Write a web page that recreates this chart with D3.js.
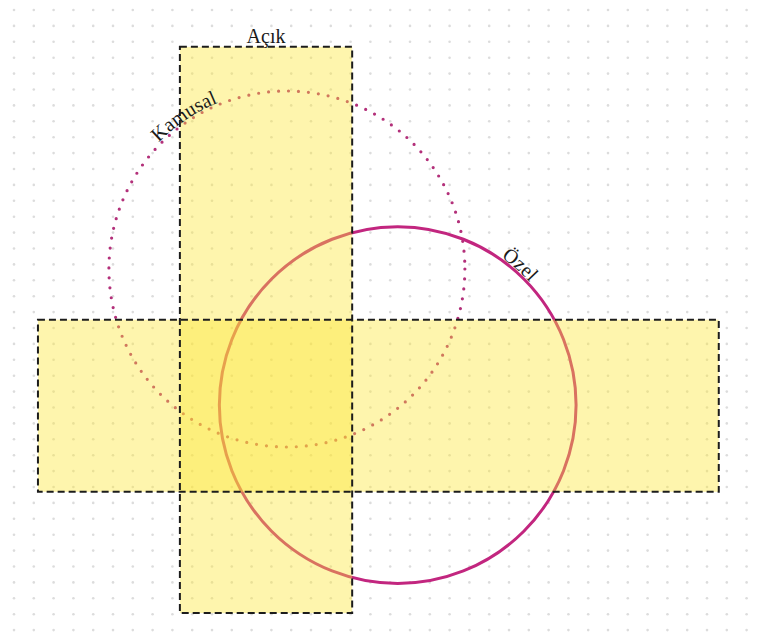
<!DOCTYPE html>
<html>
<head>
<meta charset="utf-8">
<script src="https://cdn.jsdelivr.net/npm/d3@7"></script>
<style>
  html, body { margin: 0; padding: 0; background: #ffffff; }
  svg { display: block; }
  text { font-family: "Liberation Serif", "DejaVu Serif", serif; fill: #1a1a1a; }
</style>
</head>
<body>
<script>
// rectangles (x0, x1, y0, y1 in percent of the canvas)
var rectNames = ["Açık", "Kapalı"];
var rectX0 = [23.7, 5.0];
var rectX1 = [46.4, 94.7];
var rectY0 = [7.3, 49.8];
var rectY1 = [95.5, 76.6];

// circles (center and radius in percent of the width)
var circleNames = ["Kamusal", "Özel"];
var circleCx = [37.8, 52.4];
var circleCy = [41.9, 63.1];
var circleR = [23.45, 23.5];
var circleStyle = ["dotted", "solid"];
var circleLabelAngle = [-124, -49];   // degrees, where the label sits on the ring

var w = 759, h = 642;
var fontSize = 20;

var xScale = d3.scaleLinear().domain([0, 100]).range([0, w]);
var yScale = d3.scaleLinear().domain([0, 100]).range([0, h]);

var svg = d3.select("body").append("svg")
    .attr("width", w)
    .attr("height", h);

// dotted background grid
var gridX = d3.range(14, w, 19.8);
var gridY = d3.range(10, h, 15.9);
var gridPts = [];
gridY.forEach(function(gy){
    gridX.forEach(function(gx){ gridPts.push([gx, gy]); });
});
svg.append("g").selectAll("circle")
    .data(gridPts)
    .enter()
    .append("circle")
    .attr("cx", function(d){ return d[0]; })
    .attr("cy", function(d){ return d[1]; })
    .attr("r", 1.3)
    .attr("fill", "#dcdcdc");

// circles
var circles = circleNames.map(function(n, i){
    return {
        name: n,
        cx: xScale(circleCx[i]),
        cy: yScale(circleCy[i]),
        r: xScale(circleR[i]) - xScale(0),
        style: circleStyle[i],
        angle: circleLabelAngle[i]
    };
});

svg.append("g").selectAll("circle")
    .data(circles)
    .enter()
    .append("circle")
    .attr("cx", function(d){ return d.cx; })
    .attr("cy", function(d){ return d.cy; })
    .attr("r", function(d){ return d.r; })
    .attr("fill", "none")
    .attr("stroke", function(d){ return d.style == "dotted" ? "#b3307a" : "#c2267f"; })
    .attr("stroke-width", function(d){ return d.style == "dotted" ? 3.2 : 3; })
    .attr("stroke-linecap", "round")
    .attr("stroke-dasharray", function(d){ return d.style == "dotted" ? "0 10" : null; });

// rectangles
var rects = rectNames.map(function(n, i){
    return {
        name: n,
        x0: xScale(rectX0[i]), x1: xScale(rectX1[i]),
        y0: yScale(rectY0[i]), y1: yScale(rectY1[i])
    };
});

svg.append("g").selectAll("rect")
    .data(rects)
    .enter()
    .append("rect")
    .attr("x", function(d){ return d.x0; })
    .attr("y", function(d){ return d.y0; })
    .attr("width", function(d){ return d.x1 - d.x0; })
    .attr("height", function(d){ return d.y1 - d.y0; })
    .attr("fill", "#fce632")
    .attr("fill-opacity", 0.4);

svg.append("g").selectAll("rect")
    .data(rects)
    .enter()
    .append("rect")
    .attr("x", function(d){ return d.x0; })
    .attr("y", function(d){ return d.y0; })
    .attr("width", function(d){ return d.x1 - d.x0; })
    .attr("height", function(d){ return d.y1 - d.y0; })
    .attr("fill", "none")
    .attr("stroke", "#1c1c1c")
    .attr("stroke-width", 2)
    .attr("stroke-dasharray", "7 4");

// rectangle labels
var open = rects[0], closed = rects[1];
svg.append("text")
    .attr("x", (open.x0 + open.x1) / 2)
    .attr("y", open.y0 - 4)
    .attr("text-anchor", "middle")
    .attr("font-size", fontSize)
    .text(open.name);

svg.append("text")
    .attr("transform", "translate(" + (closed.x1 + 2) + "," + ((closed.y0 + closed.y1) / 2 - 2) + ") rotate(90)")
    .attr("text-anchor", "middle")
    .attr("font-size", fontSize)
    .text(closed.name);

// circle labels on the rings (path starts at the leftmost point, runs clockwise)
var defs = svg.append("defs");
circles.forEach(function(d, i){
    var r = d.r;
    defs.append("path")
        .attr("id", "ring" + i)
        .attr("d", "M" + (d.cx - r) + "," + d.cy +
            " A" + r + "," + r + " 0 1 1 " + (d.cx + r) + "," + d.cy +
            " A" + r + "," + r + " 0 1 1 " + (d.cx - r) + "," + d.cy);
    var offset = (d.angle + 180) * Math.PI / 180 * r;
    svg.append("text")
        .attr("font-size", fontSize)
        .attr("dy", -2)
        .append("textPath")
        .attr("href", "#ring" + i)
        .attr("startOffset", offset)
        .attr("text-anchor", "middle")
        .text(d.name);
});
</script>
</body>
</html>
